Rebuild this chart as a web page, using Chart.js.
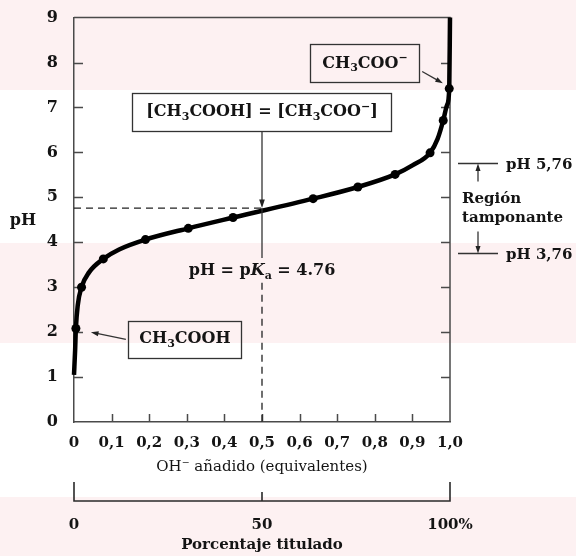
<!DOCTYPE html>
<html>
<head>
<meta charset="utf-8">
<script src="https://cdn.jsdelivr.net/npm/chart.js@4.4.1/dist/chart.umd.min.js"></script>
<style>
  html, body { margin: 0; padding: 0; background: #fff; }
</style>
</head>
<body>
<canvas id="titration" width="576" height="556"></canvas>
<script>
// titration of acetic acid with OH-: measured points (equivalents added, pH)
const markerX  = [0.005, 0.02, 0.078, 0.19, 0.304, 0.423, 0.636, 0.755, 0.854, 0.947, 0.982, 0.998];
const markerPH = [2.08, 3.0, 3.63, 4.06, 4.31, 4.55, 4.97, 5.23, 5.51, 5.99, 6.71, 7.42];
// the drawn titration curve (starts below the first point, ends at pH 9)
const curveX  = [0, 0.003, 0.005, 0.01, 0.02, 0.04, 0.078, 0.12, 0.19, 0.304, 0.423, 0.636, 0.755, 0.854, 0.9, 0.947, 0.967, 0.982, 0.992, 0.998, 1.0];
const curvePH = [1.05, 1.6, 2.08, 2.6, 3.0, 3.33, 3.63, 3.84, 4.06, 4.31, 4.55, 4.97, 5.23, 5.51, 5.71, 5.99, 6.3, 6.71, 7.05, 7.42, 9.0];

const xTicks = [0, 0.1, 0.2, 0.3, 0.4, 0.5, 0.6, 0.7, 0.8, 0.9, 1.0];
const yTicks = [0, 1, 2, 3, 4, 5, 6, 7, 8, 9];
const pctTicks = [0, 50, 100];

const pKa = 4.76;
const halfPoint = 0.5;
const bufferTop = 5.76;
const bufferBottom = 3.76;

const FONT = '"DejaVu Serif", serif';
const INK = '#141414';
const AXIS = '#4a4a4a';

const curve = curveX.map((x, i) => ({ x: x, y: curvePH[i] }));
const markers = markerX.map((x, i) => ({ x: x, y: markerPH[i] }));

// text in runs so the subscripts / superscripts / italics sit right
function richText(ctx, runs, x, y, size, align, weight) {
  weight = weight || 'bold';
  const fontOf = m => (m === 'it' ? 'italic ' : '') + weight + ' ' +
    (m === 'sub' || m === 'sup' ? Math.round(size * 0.68) : size) + 'px ' + FONT;
  let w = 0;
  runs.forEach(r => { ctx.font = fontOf(r[1]); w += ctx.measureText(r[0]).width; });
  let cx = align === 'left' ? x : x - w / 2;
  ctx.textAlign = 'left';
  ctx.textBaseline = 'middle';
  runs.forEach(r => {
    ctx.font = fontOf(r[1]);
    const dy = r[1] === 'sub' ? size * 0.32 : r[1] === 'sup' ? -size * 0.32 : 0;
    ctx.fillText(r[0], cx, y + dy);
    cx += ctx.measureText(r[0]).width;
  });
  return w;
}

function arrow(ctx, x1, y1, x2, y2, head) {
  head = head || 8;
  const a = Math.atan2(y2 - y1, x2 - x1);
  ctx.beginPath();
  ctx.moveTo(x1, y1);
  ctx.lineTo(x2 - Math.cos(a) * head * 0.6, y2 - Math.sin(a) * head * 0.6);
  ctx.stroke();
  ctx.beginPath();
  ctx.moveTo(x2, y2);
  ctx.lineTo(x2 - head * Math.cos(a - 0.32), y2 - head * Math.sin(a - 0.32));
  ctx.lineTo(x2 - head * Math.cos(a + 0.32), y2 - head * Math.sin(a + 0.32));
  ctx.closePath();
  ctx.fill();
}

function labelBox(ctx, runs, cx, cy, size, padX, h) {
  ctx.fillStyle = INK;
  const w = richText(ctx, runs, cx, cy, size);
  ctx.strokeStyle = '#333';
  ctx.lineWidth = 1.3;
  ctx.strokeRect(Math.round(cx - w / 2 - padX) + 0.5, Math.round(cy - h / 2) + 0.5,
    Math.round(w + 2 * padX), h);
}

const paperBands = {
  id: 'paperBands',
  beforeDraw(chart) {
    const { ctx, width } = chart;
    ctx.save();
    ctx.fillStyle = '#fdf1f2';
    [[0, 90], [243, 343], [497, 556]].forEach(b => ctx.fillRect(0, b[0], width, b[1] - b[0]));
    ctx.restore();
  }
};

const annotations = {
  id: 'annotations',
  beforeDatasetsDraw(chart) {
    const { ctx, chartArea: ca } = chart;
    const x = chart.scales.x, y = chart.scales.y;
    ctx.save();
    ctx.strokeStyle = AXIS;
    ctx.lineWidth = 1.5;
    // box frame: top and right sides
    ctx.beginPath();
    ctx.moveTo(ca.left, ca.top);
    ctx.lineTo(ca.right, ca.top);
    ctx.lineTo(ca.right, ca.bottom);
    ctx.stroke();
    // inward tick marks
    ctx.beginPath();
    yTicks.slice(1, -1).forEach(v => {
      const py = Math.round(y.getPixelForValue(v)) + 0.5;
      ctx.moveTo(ca.left, py); ctx.lineTo(ca.left + 9, py);
      ctx.moveTo(ca.right, py); ctx.lineTo(ca.right - 9, py);
    });
    xTicks.slice(1, -1).forEach(v => {
      const px = Math.round(x.getPixelForValue(v)) + 0.5;
      ctx.moveTo(px, ca.bottom); ctx.lineTo(px, ca.bottom - 8);
    });
    ctx.stroke();

    // pKa guides
    const hx = x.getPixelForValue(halfPoint);
    const ky = y.getPixelForValue(pKa);
    ctx.strokeStyle = '#222';
    ctx.lineWidth = 1.3;
    ctx.setLineDash([7, 5]);
    ctx.beginPath();
    ctx.moveTo(ca.left, ky); ctx.lineTo(hx, ky);
    ctx.moveTo(hx, y.getPixelForValue(3.1)); ctx.lineTo(hx, ca.bottom);
    ctx.stroke();
    ctx.setLineDash([]);
    ctx.restore();
  },
  afterDraw(chart) {
    const { ctx, chartArea: ca } = chart;
    const x = chart.scales.x, y = chart.scales.y, x2 = chart.scales.x2;
    const px = v => x.getPixelForValue(v);
    const py = v => y.getPixelForValue(v);
    ctx.save();
    ctx.fillStyle = INK;
    ctx.strokeStyle = '#222';
    ctx.lineWidth = 1.2;

    // half-equivalence: box, arrow down to the curve, label below
    const hx = px(halfPoint);
    labelBox(ctx, [['[CH'], ['3', 'sub'], ['COOH] = [CH'], ['3', 'sub'], ['COO'], ['\u2212', 'sup'], [']']],
      hx, py(6.9), 16, 14, 38);
    ctx.fillStyle = '#222';
    arrow(ctx, hx, py(6.9) + 19, hx, py(pKa), 9);
    ctx.beginPath();
    ctx.moveTo(hx, py(pKa)); ctx.lineTo(hx, py(3.65));
    ctx.stroke();
    ctx.fillStyle = INK;
    richText(ctx, [['pH = p'], ['K', 'it'], ['a', 'sub'], [' = ' + pKa.toFixed(2)]], hx, py(3.37), 16);

    // acid form
    labelBox(ctx, [['CH'], ['3', 'sub'], ['COOH']], px(0.295), py(1.84), 16, 11, 37);
    ctx.fillStyle = '#222';
    arrow(ctx, px(0.138), py(1.84), px(0.045), py(2.0), 8);

    // conjugate base
    ctx.fillStyle = INK;
    labelBox(ctx, [['CH'], ['3', 'sub'], ['COO'], ['\u2212', 'sup']], px(0.774), py(7.98), 16, 12, 38);
    ctx.fillStyle = '#222';
    arrow(ctx, px(0.926), py(7.8), px(0.981), py(7.54), 8);

    // buffer region on the right
    const l0 = ca.right + 8, l1 = ca.right + 48, ax = ca.right + 28;
    const yt = Math.round(py(bufferTop)) + 0.5, yb = Math.round(py(bufferBottom)) + 0.5;
    const mid = (yt + yb) / 2;
    ctx.beginPath();
    ctx.moveTo(l0, yt); ctx.lineTo(l1, yt);
    ctx.moveTo(l0, yb); ctx.lineTo(l1, yb);
    ctx.stroke();
    arrow(ctx, ax, mid - 27, ax, yt, 8);
    arrow(ctx, ax, mid + 23, ax, yb, 8);
    ctx.fillStyle = INK;
    richText(ctx, [['pH ' + bufferTop.toFixed(2).replace('.', ',')]], ca.right + 56, yt + 2, 15, 'left');
    richText(ctx, [['pH ' + bufferBottom.toFixed(2).replace('.', ',')]], ca.right + 56, yb + 2, 15, 'left');
    richText(ctx, [['Región']], ca.right + 12, mid - 9, 15, 'left');
    richText(ctx, [['tamponante']], ca.right + 12, mid + 10, 15, 'left');

    // horizontal y title
    richText(ctx, [['pH']], 23, py(4.48), 16);

    // percent titrated axis
    const top = x2.top;
    const a0 = x2.getPixelForValue(pctTicks[0]);
    const a1 = x2.getPixelForValue(pctTicks[pctTicks.length - 1]);
    ctx.strokeStyle = '#2a2a2a';
    ctx.lineWidth = 1.6;
    ctx.beginPath();
    ctx.moveTo(a0, top - 19); ctx.lineTo(a0, top); ctx.lineTo(a1, top); ctx.lineTo(a1, top - 19);
    const am = x2.getPixelForValue(pctTicks[1]);
    ctx.moveTo(am, top); ctx.lineTo(am, top - 9);
    ctx.stroke();
    ctx.restore();
  }
};

new Chart(document.getElementById('titration'), {
  type: 'line',
  data: {
    datasets: [
      {
        data: curve,
        borderColor: '#000',
        borderWidth: 4.5,
        pointRadius: 0,
        cubicInterpolationMode: 'monotone',
        clip: false,
        order: 2
      },
      {
        data: markers,
        showLine: false,
        pointRadius: 4.5,
        pointBackgroundColor: '#000',
        pointBorderWidth: 0,
        clip: false,
        order: 1
      }
    ]
  },
  options: {
    responsive: false,
    animation: false,
    layout: { padding: { left: 0, right: 126, top: 16, bottom: 0 } },
    plugins: { legend: { display: false }, tooltip: { enabled: false } },
    scales: {
      x: {
        type: 'linear',
        position: 'bottom',
        weight: 0,
        min: 0,
        max: 1,
        afterBuildTicks: s => { s.ticks = xTicks.map(v => ({ value: v })); },
        afterFit: s => { s.height = 79; },
        grid: { display: false },
        border: { display: true, color: AXIS, width: 1.5 },
        ticks: {
          autoSkip: false,
          maxRotation: 0,
          padding: 4,
          color: INK,
          font: { family: FONT, size: 15, weight: 'bold' },
          callback: v => (v === 0 ? '0' : v.toFixed(1).replace('.', ','))
        },
        title: {
          display: true,
          text: 'OH\u207B añadido (equivalentes)',
          color: INK,
          font: { family: FONT, size: 15 },
          padding: { top: 0, bottom: 25 }
        }
      },
      x2: {
        type: 'linear',
        position: 'bottom',
        weight: 1,
        min: 0,
        max: 100,
        afterBuildTicks: s => { s.ticks = pctTicks.map(v => ({ value: v })); },
        afterFit: s => { s.height = 55; },
        grid: { display: false },
        border: { display: false },
        ticks: {
          autoSkip: false,
          maxRotation: 0,
          padding: 7,
          color: INK,
          font: { family: FONT, size: 15, weight: 'bold' },
          callback: v => (v === 100 ? '100%' : String(v))
        },
        title: {
          display: true,
          text: 'Porcentaje titulado',
          color: INK,
          font: { family: FONT, size: 15, weight: 'bold' },
          padding: { top: 0, bottom: 2 }
        }
      },
      y: {
        type: 'linear',
        min: 0,
        max: 9,
        afterBuildTicks: s => { s.ticks = yTicks.map(v => ({ value: v })); },
        afterFit: s => { s.width = 74; },
        grid: { display: false },
        border: { display: true, color: AXIS, width: 1.5 },
        ticks: {
          padding: 8,
          color: INK,
          font: { family: FONT, size: 16, weight: 'bold' }
        }
      }
    }
  },
  plugins: [paperBands, annotations]
});
</script>
</body>
</html>
